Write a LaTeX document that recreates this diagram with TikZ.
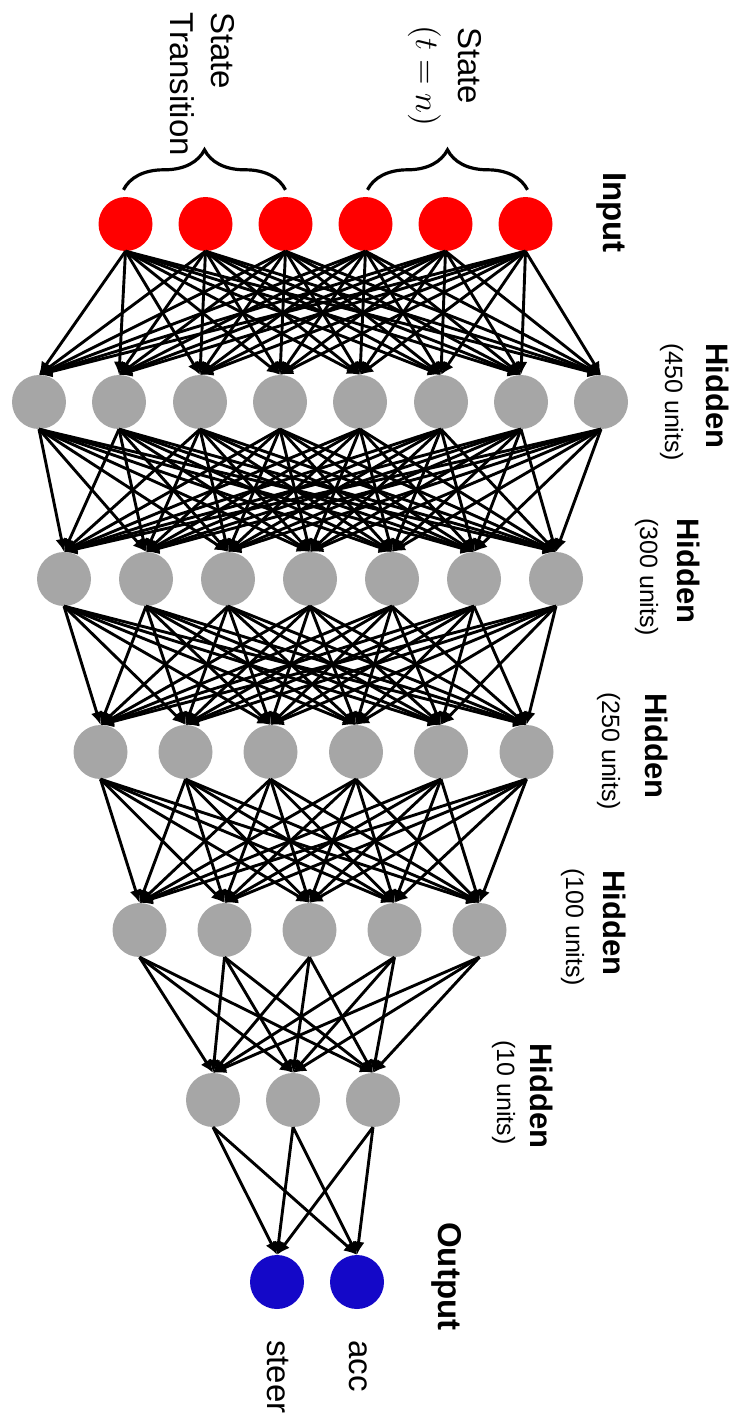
\documentclass[tikz,border=0pt]{standalone}
\usepackage{fontspec}
\setmainfont{Liberation Sans}
\usetikzlibrary{arrows.meta,decorations.pathreplacing}

\definecolor{inred}{RGB}{255,0,0}
\definecolor{hidgray}{RGB}{166,166,166}
\definecolor{outblue}{RGB}{20,8,200}

\begin{document}
\begin{tikzpicture}[x=1pt,y=-1pt,
  neuron/.style={circle,minimum size=54pt,inner sep=0pt,draw=none},
  inputn/.style={neuron,fill=inred},
  hiddenn/.style={neuron,fill=hidgray},
  outputn/.style={neuron,fill=outblue},
  link/.style={line width=2.9pt,-{Latex[length=13pt,width=12pt]}},
  bracepath/.style={line width=3.2pt,decorate,decoration={brace,amplitude=40pt}},
  lbl/.style={rotate=-90,anchor=base west,inner sep=0pt,align=left,
              font=\fontsize{33}{40}\selectfont},
  mathlbl/.style={rotate=-90,anchor=base west,inner sep=0pt,
              font=\fontsize{10}{12}\selectfont},
  titlelbl/.style={lbl,font=\fontsize{33}{40}\selectfont\bfseries},
  hidlbl/.style={lbl,font=\fontsize{31}{38}\selectfont\bfseries},
  unitlbl/.style={lbl,font=\fontsize{25}{30}\selectfont}]

\useasboundingbox (0,0) rectangle (735,1417);

% layers of units
\foreach \x [count=\i] in {125.5,205.5,285.5,365.5,445.5,525.5}
  \node[inputn] (in\i) at (\x,224) {};
\foreach \x [count=\i] in {39,119,200,280,360,441,521,601}
  \node[hiddenn] (ha\i) at (\x,402) {};
\foreach \x [count=\i] in {64,146,228,310,392,474,556}
  \node[hiddenn] (hb\i) at (\x,579) {};
\foreach \x [count=\i] in {100.5,185.5,270.5,356,441,526.5}
  \node[hiddenn] (hc\i) at (\x,752) {};
\foreach \x [count=\i] in {139.5,224.5,309.5,394.5,479.5}
  \node[hiddenn] (hd\i) at (\x,930) {};
\foreach \x [count=\i] in {213,293,373}
  \node[hiddenn] (he\i) at (\x,1100) {};
\foreach \x [count=\i] in {277,357}
  \node[outputn] (out\i) at (\x,1282) {};

% fully connected links between consecutive layers
\foreach \i in {1,...,6}
  \foreach \j in {1,...,8}
    \draw[link] (in\i.south) -- (ha\j.north);
\foreach \i in {1,...,8}
  \foreach \j in {1,...,7}
    \draw[link] (ha\i.south) -- (hb\j.north);
\foreach \i in {1,...,7}
  \foreach \j in {1,...,6}
    \draw[link] (hb\i.south) -- (hc\j.north);
\foreach \i in {1,...,6}
  \foreach \j in {1,...,5}
    \draw[link] (hc\i.south) -- (hd\j.north);
\foreach \i in {1,...,5}
  \foreach \j in {1,...,3}
    \draw[link] (hd\i.south) -- (he\j.north);
\foreach \i in {1,...,3}
  \foreach \j in {1,2}
    \draw[link] (he\i.south) -- (out\j.north);

% braces over the input groups
\draw[bracepath] ([xshift=-2pt,yshift=7pt]in1.north) -- ([yshift=7pt]in3.north);
\draw[bracepath] ([xshift=2pt,yshift=7pt]in4.north) -- ([xshift=2pt,yshift=7pt]in6.north);

% group labels
\node[lbl] (trA) at (211,12) {State};
\node[lbl] (trB) at (170,12) {Transition};
\node[lbl] (stA) at (458,27) {State};
\node[mathlbl] (stB) at (416,25) {\scalebox{3.3}{$(t = n)$}};

% layer labels
\node[titlelbl] (inlbl) at (603,172) {Input};
\node[hidlbl] (halbl) at (706,343) {Hidden};
\node[unitlbl] (haunit) at (665,343) {(450 units)};
\node[hidlbl] (hblbl) at (677,518) {Hidden};
\node[unitlbl] (hbunit) at (640,518) {(300 units)};
\node[hidlbl] (hclbl) at (645,693) {Hidden};
\node[unitlbl] (hcunit) at (602,692) {(250 units)};
\node[hidlbl] (hdlbl) at (603,870) {Hidden};
\node[unitlbl] (hdunit) at (566,868) {(100 units)};
\node[hidlbl] (helbl) at (530,1043) {Hidden};
\node[unitlbl] (heunit) at (497,1040) {(10 units)};
\node[titlelbl] (outlbl) at (438,1222) {Output};

% output names
\node[lbl] (steer) at (267,1340) {steer};
\node[lbl] (acc) at (349,1340) {acc};
\end{tikzpicture}
\end{document}
